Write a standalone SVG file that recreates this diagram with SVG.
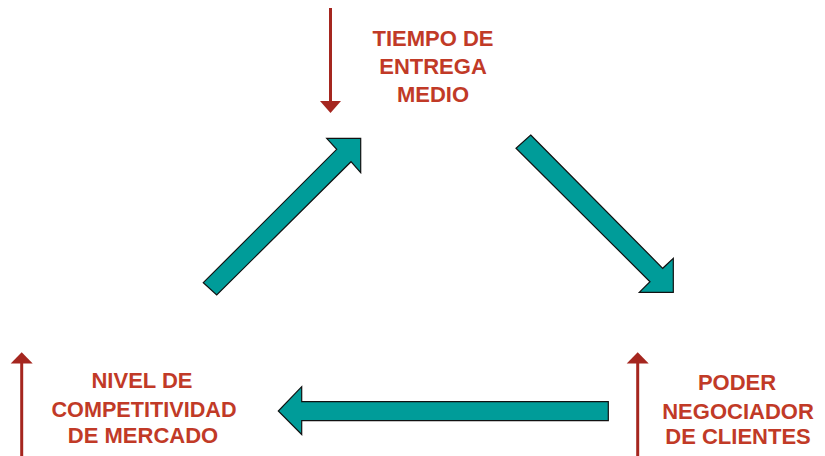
<svg xmlns="http://www.w3.org/2000/svg" width="825" height="456" viewBox="0 0 825 456">
<defs>
<style>
.lbl{font-family:"Liberation Sans",Arial,sans-serif;font-weight:bold;font-size:22px;fill:#c13a27;text-anchor:middle}
.cyc{fill:#009c99;stroke:#111;stroke-width:1.2;stroke-linejoin:miter}
.ind{stroke:#a5261f;stroke-width:3;fill:none}
.head{fill:#a5261f}
</style>
</defs>
<rect width="825" height="456" fill="#fff"/>
<g id="connectors">
<polygon class="cyc" points="203.3,282.7 336.7,149.3 326.7,138.3 360.7,138.3 360.7,172.7 351,161.7 216.7,295"/>
<polygon class="cyc" points="530.7,135 662.7,268.3 673.3,258.3 673.3,292.3 639.3,292.3 650,281.7 516,148.3"/>
<polygon class="cyc" points="608.3,401.7 301.7,401.7 301.7,386.7 278.3,411 301.7,434.5 301.7,420.7 608.3,420.7"/>
</g>
<g id="node-tiempo">
<line class="ind" x1="330.5" y1="8" x2="330.5" y2="102"/>
<polygon class="head" points="320,101 341,101 330.5,113"/>
<text class="lbl" x="433" y="45.5">TIEMPO DE</text>
<text class="lbl" x="433" y="74">ENTREGA</text>
<text class="lbl" x="433" y="102">MEDIO</text>
</g>
<g id="node-nivel">
<line class="ind" x1="21.7" y1="362" x2="21.7" y2="456"/>
<polygon class="head" points="10.7,363.5 32.7,363.5 21.7,352.3"/>
<text class="lbl" x="142" y="388">NIVEL DE</text>
<text class="lbl" x="144" y="417" textLength="185" lengthAdjust="spacingAndGlyphs">COMPETITIVIDAD</text>
<text class="lbl" x="143" y="442.5">DE MERCADO</text>
</g>
<g id="node-poder">
<line class="ind" x1="637.7" y1="362" x2="637.7" y2="456"/>
<polygon class="head" points="626.7,363.5 648.7,363.5 637.7,352.3"/>
<text class="lbl" x="737" y="389.5">PODER</text>
<text class="lbl" x="738" y="418.5">NEGOCIADOR</text>
<text class="lbl" x="738" y="444">DE CLIENTES</text>
</g>
</svg>
